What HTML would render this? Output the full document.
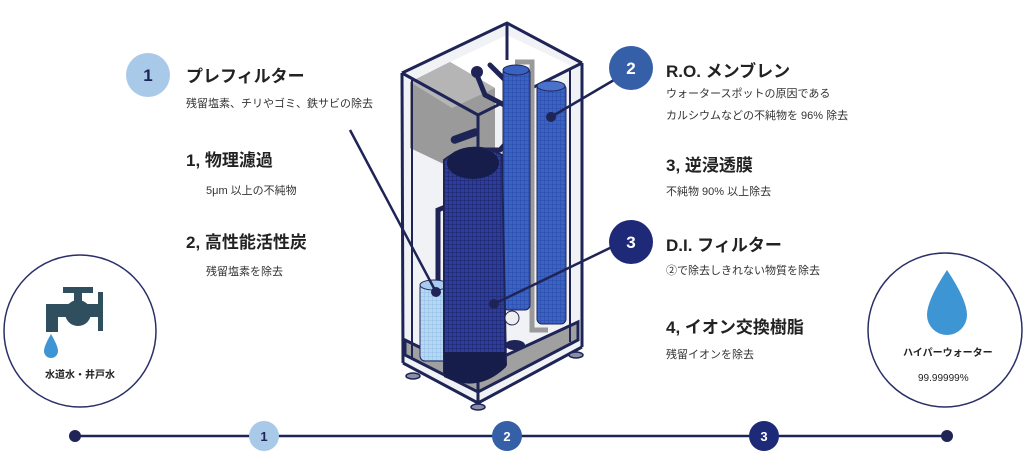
<!DOCTYPE html>
<html><head><meta charset="utf-8"><style>
html,body{margin:0;padding:0;background:#fff;}
body{width:1024px;height:455px;overflow:hidden;position:relative;font-family:"Liberation Sans","Noto Sans CJK JP",sans-serif;color:#222;}
.t{position:absolute;white-space:nowrap;}
.h{font-weight:bold;font-size:17px;color:#222;}
.s{font-size:11px;color:#333;}
</style></head><body>
<svg width="1024" height="455" style="position:absolute;left:0;top:0">
<defs>
<pattern id="mesh" width="4" height="4" patternUnits="userSpaceOnUse"><rect width="4" height="4" fill="#2e3d9c"/><path d="M0 0H4M0 0V4" stroke="#1a2266" stroke-width="1"/></pattern>
<pattern id="mesh2" width="4" height="4" patternUnits="userSpaceOnUse"><rect width="4" height="4" fill="#3b63c4"/><path d="M0 0H4M0 0V4" stroke="#2a4aa6" stroke-width="1"/></pattern>
<pattern id="mesh3" width="4" height="4" patternUnits="userSpaceOnUse"><rect width="4" height="4" fill="#b8d8f2"/><path d="M0 0H4M0 0V4" stroke="#8fbce6" stroke-width="1"/></pattern>
</defs>
<polygon points="402,73 507,23 582,63 582,347 478,403 403,363" fill="#f1f2f5"/>
<polygon points="412,80 507,35 572,66 470,118" fill="#fff"/>
<polygon points="410,82 450,62 495,88 495,150 452,168 410,148" fill="#9a9a9a"/>
<polygon points="410,82 450,62 495,88 452,108" fill="#b5b5b5"/>
<polygon points="405,340 470,372 578,322 578,340 478,392 405,355" fill="#a0a0a0" stroke="#1f2456" stroke-width="3"/>
<g stroke="#1f2456" stroke-width="3" fill="none">
<polyline points="402,73 507,23 582,63"/>
<polyline points="402,73 478,115 582,63"/>
<line x1="402" y1="73" x2="403" y2="363"/>
<line x1="478" y1="115" x2="478" y2="403"/>
<line x1="582" y1="63" x2="582" y2="347"/>
<line x1="507" y1="23" x2="507" y2="60"/>
<polyline points="403,363 478,403 582,347"/>
</g>
<g stroke="#1f2456" stroke-width="2" fill="none"><line x1="412" y1="80" x2="412" y2="358"/><line x1="570" y1="68" x2="570" y2="342"/></g>
<g fill="#8a8fa8" stroke="#1f2456" stroke-width="1.5"><ellipse cx="413" cy="376" rx="7" ry="3"/><ellipse cx="478" cy="407" rx="7" ry="3"/><ellipse cx="576" cy="355" rx="7" ry="3"/></g>
<g stroke="#1f2456" stroke-width="5" fill="none" stroke-linecap="round">
<polyline points="475,70 485,95 510,108 522,125 500,150 478,150"/>
<polyline points="490,65 505,80 520,88"/>
<polyline points="438,300 438,210 450,205"/>
</g>
<polyline points="515,62 532,62 532,330 548,330" stroke="#9a9a9a" stroke-width="5" fill="none"/>
<circle cx="477" cy="72" r="6" fill="#1f2456"/>
<rect x="503" y="68" width="27" height="242" rx="5" fill="url(#mesh2)" stroke="#1f2456" stroke-width="1"/>
<ellipse cx="516" cy="70" rx="13" ry="5" fill="#3a62c0" stroke="#1f2456"/>
<rect x="537" y="84" width="29" height="240" rx="5" fill="url(#mesh2)" stroke="#1f2456" stroke-width="1"/>
<ellipse cx="551" cy="86" rx="14" ry="5" fill="#4a72cc" stroke="#1f2456"/>
<rect x="420" y="283" width="28" height="78" rx="5" fill="url(#mesh3)" stroke="#1f2456" stroke-width="1"/>
<ellipse cx="434" cy="285" rx="14" ry="5" fill="#a8cbee" stroke="#1f2456"/>
<path d="M444,160 Q472,138 502,155 L506,365 Q478,392 444,375 Z" fill="url(#mesh)" stroke="#1f2456" stroke-width="2"/>
<path d="M444,352 L506,352 L506,367 Q478,394 444,377 Z" fill="#161d4a"/>
<ellipse cx="473" cy="163" rx="26" ry="16" fill="#161d4a"/>
<rect x="450" y="132" width="30" height="8" rx="4" fill="#1f2456" transform="rotate(-20 465 136)"/>
<circle cx="512" cy="318" r="7" fill="#eee" stroke="#1f2456"/>
<ellipse cx="515" cy="345" rx="10" ry="5" fill="#1f2456"/>
<g stroke="#1f2456" stroke-width="2.5">
<line x1="350" y1="130" x2="436" y2="292"/>
<line x1="614" y1="80" x2="551" y2="117"/>
<line x1="612" y1="247" x2="494" y2="304"/>
</g>
<g fill="#1f2456"><circle cx="436" cy="292" r="5"/><circle cx="551" cy="117" r="5"/><circle cx="494" cy="304" r="5"/></g>
<circle cx="148" cy="75" r="22" fill="#a9c9e8"/>
<circle cx="631" cy="68" r="22" fill="#3560a8"/>
<circle cx="631" cy="242" r="22" fill="#1e2a78"/>
<g font-family="Liberation Sans" font-weight="bold" font-size="17" text-anchor="middle" fill="#fff">
<text x="148" y="81" fill="#1f2456">1</text><text x="631" y="74">2</text><text x="631" y="248">3</text></g>
<circle cx="80" cy="331" r="76" fill="#fff" stroke="#2a2f66" stroke-width="1.5"/>
<circle cx="945" cy="330" r="77" fill="#fff" stroke="#2a2f66" stroke-width="1.5"/>
<g fill="#2f4f5f">
<rect x="63" y="287" width="30" height="6"/><rect x="74" y="290" width="8" height="12"/>
<circle cx="78" cy="313" r="13"/>
<rect x="46" y="304" width="52" height="13"/><rect x="46" y="304" width="12" height="28"/>
<rect x="98" y="292" width="5" height="39"/>
</g>
<path d="M51,334 Q44,346 44,351 A7,7 0 0 0 58,351 Q58,346 51,334Z" fill="#3d95d3"/>
<path d="M947,270 Q927,300 927,315 A20,20 0 0 0 967,315 Q967,300 947,270Z" fill="#3d95d3"/>
<line x1="75" y1="436" x2="947" y2="436" stroke="#1f2456" stroke-width="2.5"/>
<circle cx="75" cy="436" r="6" fill="#1f2456"/><circle cx="947" cy="436" r="6" fill="#1f2456"/>
<circle cx="264" cy="436" r="15" fill="#a9c9e8"/><circle cx="507" cy="436" r="15" fill="#3560a8"/><circle cx="764" cy="436" r="15" fill="#1e2a78"/>
<g font-family="Liberation Sans" font-weight="bold" font-size="13" text-anchor="middle" fill="#fff">
<text x="264" y="441" fill="#1f2456">1</text><text x="507" y="441">2</text><text x="764" y="441">3</text></g>
</svg>
<div class="t h" style="left:186px;top:62px">プレフィルター</div>
<div class="t s" style="left:186px;top:95px">残留塩素、チリやゴミ、鉄サビの除去</div>
<div class="t h" style="left:186px;top:146px">1, 物理濾過</div>
<div class="t s" style="left:206px;top:182px">5μm 以上の不純物</div>
<div class="t h" style="left:186px;top:228px">2, 高性能活性炭</div>
<div class="t s" style="left:206px;top:263px">残留塩素を除去</div>
<div class="t h" style="left:666px;top:57px">R.O. メンブレン</div>
<div class="t s" style="left:666px;top:85px">ウォータースポットの原因である</div>
<div class="t s" style="left:666px;top:107px">カルシウムなどの不純物を 96% 除去</div>
<div class="t h" style="left:666px;top:151px">3, 逆浸透膜</div>
<div class="t s" style="left:666px;top:183px">不純物 90% 以上除去</div>
<div class="t h" style="left:666px;top:231px">D.I. フィルター</div>
<div class="t s" style="left:666px;top:262px">②で除去しきれない物質を除去</div>
<div class="t h" style="left:666px;top:313px">4, イオン交換樹脂</div>
<div class="t s" style="left:666px;top:346px">残留イオンを除去</div>
<div class="t" style="left:45px;top:366px;font-size:10px;font-weight:bold">水道水・井戸水</div>
<div class="t" style="left:903px;top:344px;font-size:10px;font-weight:bold">ハイパーウォーター</div>
<div class="t" style="left:918px;top:373px;font-size:10px">99.99999%</div>
</body></html>
